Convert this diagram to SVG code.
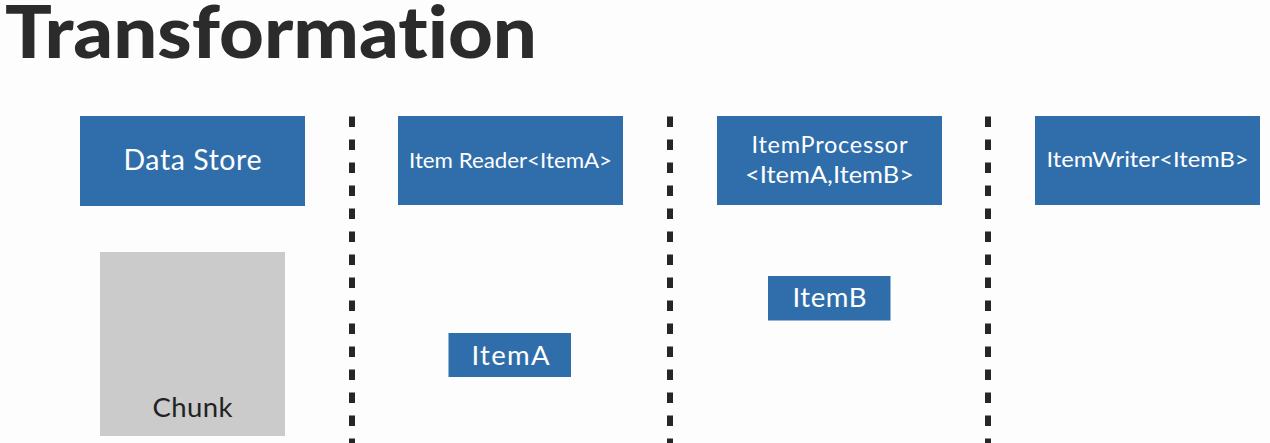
<svg xmlns="http://www.w3.org/2000/svg" width="1270" height="443" viewBox="0 0 1270 443">
<style>
text{font-variant-ligatures:none;font-feature-settings:"liga" 0}
.box{fill:#2f6eab}
.lbl{font-family:Lato,"Open Sans","Liberation Sans",sans-serif;fill:#ffffff;text-anchor:middle}
.dark{font-family:Lato,"Open Sans","Liberation Sans",sans-serif;fill:#222222;text-anchor:middle}
.sep{stroke:#262626;stroke-width:6;stroke-dasharray:10.5 12.5;fill:none}
</style>
<rect width="1270" height="443" fill="#fdfdfd"/>
<text x="5" y="58" font-family="Lato,'Open Sans','Liberation Sans',sans-serif" font-weight="900" font-size="72" fill="#2b2b2b" textLength="532" lengthAdjust="spacingAndGlyphs">Transformation</text>
<g id="connectors">
<line class="sep" x1="352" y1="116.5" x2="352" y2="443"/>
<line class="sep" x1="670" y1="116.5" x2="670" y2="443"/>
<line class="sep" x1="988" y1="116.5" x2="988" y2="443"/>
</g>
<g id="datastore">
<rect class="box" x="80" y="116" width="225" height="90"/>
<text class="lbl" x="192.5" y="170" font-size="28.5" textLength="138">Data Store</text>
</g>
<g id="itemreader">
<rect class="box" x="398" y="116" width="225" height="89"/>
<text class="lbl" x="510.5" y="167.5" font-size="21.5" textLength="203" lengthAdjust="spacingAndGlyphs">Item Reader&lt;ItemA&gt;</text>
</g>
<g id="itemprocessor">
<rect class="box" x="717" y="116" width="225" height="89"/>
<text class="lbl" x="829.5" y="152.5" font-size="23.5" textLength="156">ItemProcessor</text>
<text class="lbl" x="829.5" y="182.5" font-size="23.5" textLength="169" lengthAdjust="spacingAndGlyphs">&lt;ItemA,ItemB&gt;</text>
</g>
<g id="itemwriter">
<rect class="box" x="1035" y="116" width="225" height="89"/>
<text class="lbl" x="1147.5" y="166.5" font-size="21" textLength="202" lengthAdjust="spacingAndGlyphs">ItemWriter&lt;ItemB&gt;</text>
</g>
<g id="chunk">
<rect x="100" y="252" width="185" height="184" fill="#cbcbcb"/>
<text class="dark" x="192.5" y="416.5" font-size="27.5" textLength="80">Chunk</text>
</g>
<g id="itema">
<rect class="box" x="448.5" y="333" width="122.5" height="44"/>
<text class="lbl" x="510.5" y="365" font-size="27.5" textLength="78">ItemA</text>
</g>
<g id="itemb">
<rect class="box" x="768" y="276" width="122.5" height="44.5"/>
<text class="lbl" x="829.5" y="306.5" font-size="27.5" textLength="74">ItemB</text>
</g>
</svg>
